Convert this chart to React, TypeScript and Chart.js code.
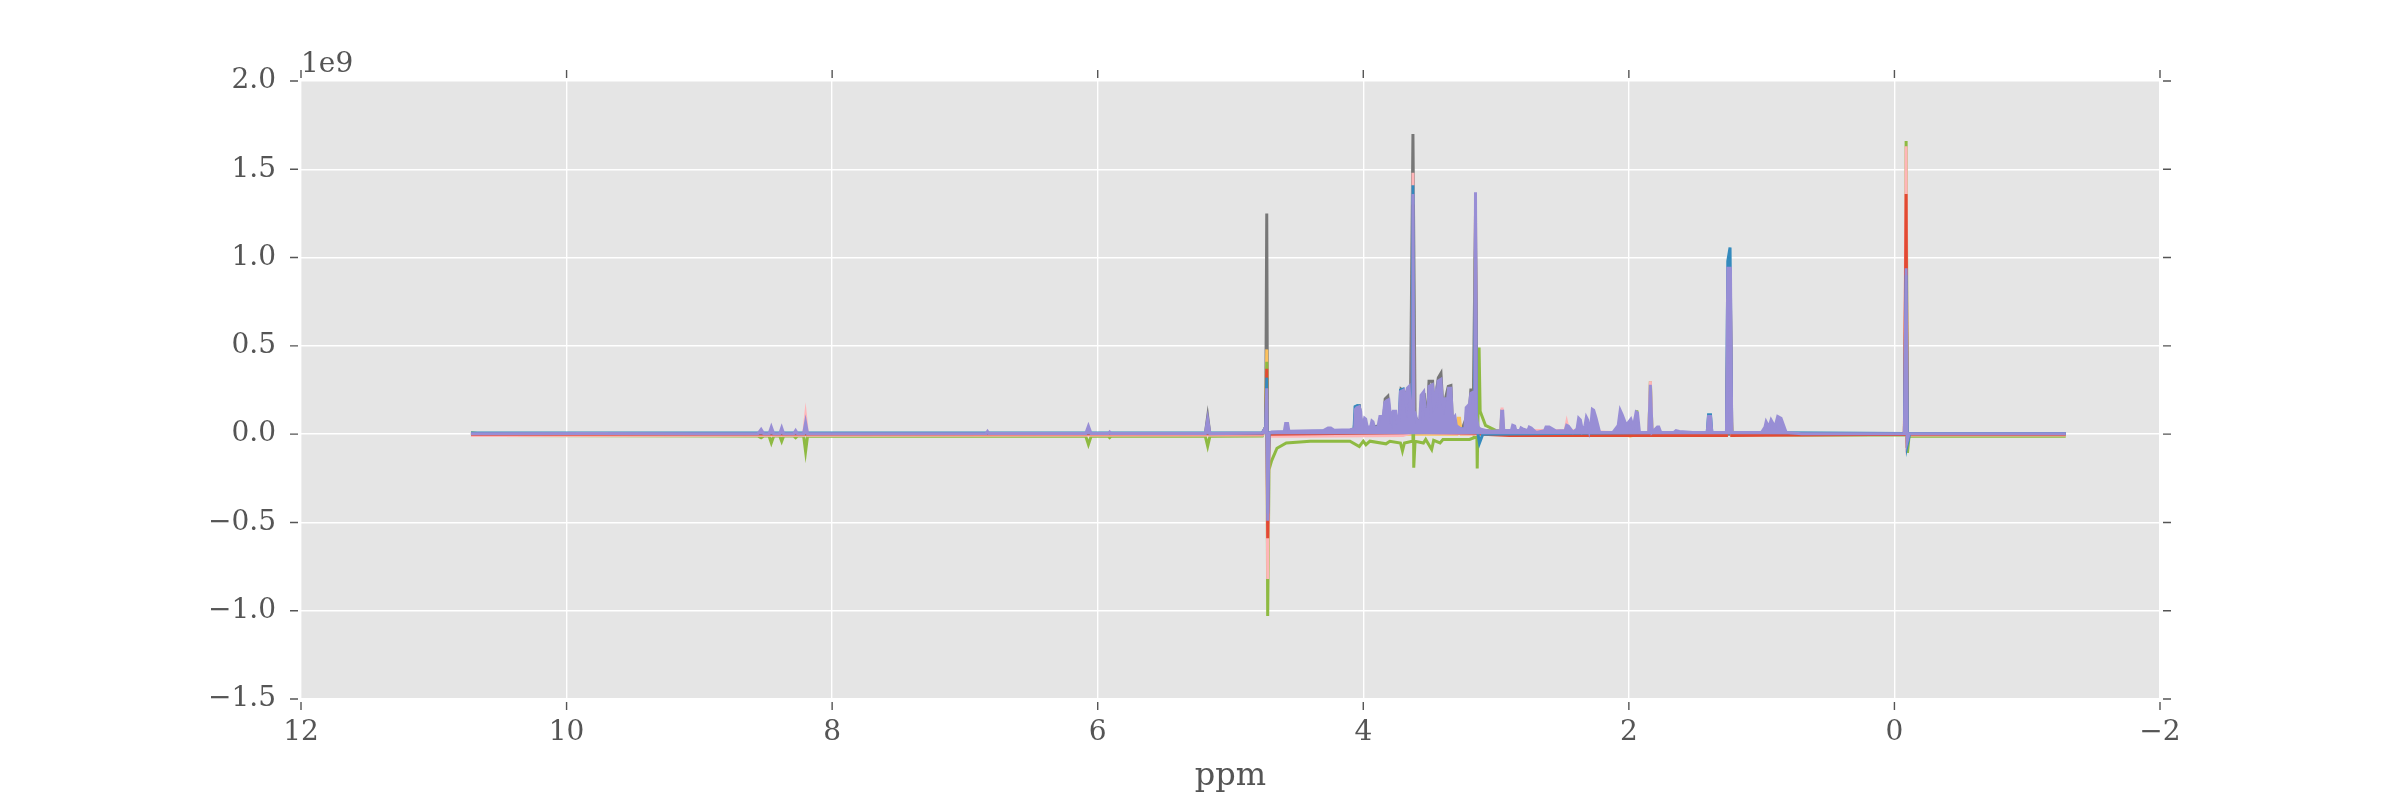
import React, { useEffect, useRef } from 'react';
import { Chart, registerables } from 'chart.js';

Chart.register(...registerables);

type Pt = [number, number];

// Chemical shift (ppm) / intensity (x 1e9) pairs for each spectrum
const PURPLE: Pt[] = [
  [10.72, 0.002], [9.8, 0.003], [9.0, 0.002], [8.56, 0.002], [8.535, 0.027], [8.515, 0.002],
  [8.475, 0.002], [8.458, 0.04], [8.44, 0.002], [8.395, 0.002], [8.38, 0.035], [8.365, 0.002],
  [8.29, 0.002], [8.275, 0.02], [8.26, 0.002], [8.215, 0.002], [8.2, 0.065], [8.185, 0.002],
  [7.8, 0.002], [6.84, 0.003], [6.83, 0.015], [6.82, 0.003], [6.09, 0.003], [6.07, 0.045],
  [6.05, 0.003], [5.92, 0.003], [5.91, 0.012], [5.9, 0.003], [5.19, 0.003], [5.172, 0.085],
  [5.155, 0.003], [4.76, 0.006], [4.735, 0.04], [4.727, 0.26], [4.72, -0.49], [4.71, 0.005],
  [4.69, 0.012], [4.595, 0.015], [4.585, 0.06], [4.57, 0.06], [4.56, 0.016], [4.3, 0.02],
  [4.265, 0.035], [4.245, 0.035], [4.22, 0.022], [4.1, 0.025],
  [4.065, 0.03], [4.06, 0.14], [4.05, 0.15], [4.03, 0.155], [4.02, 0.13], [4.012, 0.05],
  [4.0, 0.05], [3.99, 0.09], [3.982, 0.085], [3.97, 0.04], [3.945, 0.04], [3.935, 0.075],
  [3.927, 0.07], [3.915, 0.035], [3.89, 0.04], [3.875, 0.1], [3.85, 0.1], [3.838, 0.18],
  [3.822, 0.19], [3.808, 0.195], [3.798, 0.12], [3.792, 0.1], [3.775, 0.13], [3.755, 0.13],
  [3.745, 0.07], [3.73, 0.08], [3.72, 0.24], [3.695, 0.25], [3.685, 0.2], [3.676, 0.16],
  [3.668, 0.26], [3.655, 0.27], [3.645, 0.15], [3.632, 0.13], [3.626, 1.36], [3.62, 0.13],
  [3.61, 0.12], [3.595, 0.07], [3.575, 0.07], [3.565, 0.22], [3.545, 0.24], [3.535, 0.15],
  [3.525, 0.1], [3.515, 0.1], [3.505, 0.27], [3.48, 0.28], [3.47, 0.15], [3.465, 0.16],
  [3.455, 0.23], [3.445, 0.2], [3.437, 0.3], [3.415, 0.31], [3.405, 0.18], [3.395, 0.15],
  [3.385, 0.2], [3.365, 0.2], [3.358, 0.26], [3.34, 0.26], [3.33, 0.1], [3.32, 0.09],
  [3.31, 0.1], [3.3, 0.05], [3.285, 0.04], [3.265, 0.03], [3.235, 0.03], [3.225, 0.15],
  [3.2, 0.17], [3.19, 0.23], [3.168, 0.24], [3.16, 0.22], [3.155, 1.37], [3.148, 0.1],
  [3.135, 0.04], [3.12, 0.03], [3.05, 0.015], [2.965, 0.02], [2.958, 0.13], [2.95, 0.13],
  [2.942, 0.02], [2.885, 0.02], [2.875, 0.05], [2.86, 0.045], [2.85, 0.02], [2.82, 0.02],
  [2.812, 0.035], [2.8, 0.03], [2.76, 0.02], [2.75, 0.04], [2.735, 0.035], [2.7, 0.01],
  [2.635, 0.02], [2.624, 0.04], [2.6, 0.04], [2.548, 0.018], [2.48, 0.02], [2.468, 0.05],
  [2.455, 0.045], [2.42, 0.01], [2.39, 0.03], [2.378, 0.09], [2.365, 0.08], [2.35, 0.02],
  [2.33, 0.05], [2.32, 0.095], [2.31, 0.08], [2.297, 0.02], [2.285, 0.06], [2.275, 0.14],
  [2.265, 0.135], [2.247, 0.09], [2.22, 0.01], [2.12, 0.01], [2.08, 0.05], [2.065, 0.135],
  [2.05, 0.11], [2.02, 0.05], [1.985, 0.085], [1.966, 0.04], [1.945, 0.125], [1.935, 0.12],
  [1.92, 0.01], [1.85, 0.01], [1.838, 0.28], [1.825, 0.01], [1.785, 0.04], [1.775, 0.04],
  [1.76, 0.01], [1.66, 0.01], [1.645, 0.02], [1.62, 0.015], [1.52, 0.01], [1.41, 0.01],
  [1.4, 0.1], [1.385, 0.1], [1.375, 0.01], [1.265, 0.01], [1.255, 0.94], [1.235, 0.94],
  [1.225, 0.01], [1.0, 0.01], [0.975, 0.04], [0.966, 0.07], [0.945, 0.04], [0.929, 0.08],
  [0.9, 0.04], [0.879, 0.1], [0.854, 0.09], [0.816, 0.01], [0.7, 0.002], [-0.075, 0.002],
  [-0.088, 0.94], [-0.096, -0.04], [-0.11, 0.002], [-1.29, 0.002],
];

const BLUE: Pt[] = [
  [10.72, 0.006], [4.76, 0.008], [4.735, 0.04], [4.727, 0.32], [4.72, -0.45], [4.71, 0.008],
  [4.07, 0.022], [4.062, 0.155], [4.045, 0.162], [4.03, 0.16], [4.012, 0.03], [3.73, 0.05],
  [3.72, 0.25], [3.7, 0.255], [3.685, 0.15], [3.635, 0.05], [3.626, 1.41], [3.618, 0.03],
  [3.2, 0.03], [3.165, 0.05], [3.155, 1.14], [3.147, 0.05], [3.125, -0.05], [3.1, 0.0],
  [2.0, 0.008], [1.41, 0.01], [1.4, 0.11], [1.385, 0.11], [1.375, 0.01], [1.265, 0.01],
  [1.255, 0.98], [1.238, 1.057], [1.225, 0.01], [-0.075, 0.004], [-0.088, 0.9],
  [-0.098, -0.055], [-0.115, 0.004], [-1.29, 0.004],
];

const RED: Pt[] = [
  [10.72, 0.0], [4.76, 0.002], [4.735, 0.04], [4.727, 0.37], [4.72, -0.59], [4.71, 0.0],
  [4.2, 0.004], [3.7, 0.008], [3.635, 0.01], [3.626, 1.3], [3.618, 0.01], [3.165, 0.005],
  [3.155, 1.05], [3.147, 0.005], [3.1, 0.0], [2.9, -0.008], [1.265, -0.008], [1.25, 0.75],
  [1.235, 0.75], [1.225, -0.008], [0.7, -0.005], [-0.075, 0.0], [-0.088, 1.36],
  [-0.096, -0.03], [-0.11, 0.0], [-1.29, 0.0],
];

const PINK: Pt[] = [
  [10.72, -0.008], [8.215, -0.006], [8.2, 0.1], [8.185, -0.006], [4.76, -0.005],
  [4.735, 0.03], [4.727, 0.2], [4.72, -0.82], [4.71, -0.012], [4.5, -0.012], [3.7, -0.008],
  [3.635, 0.01], [3.626, 1.48], [3.618, 0.01], [3.165, 0.0], [3.155, 1.28], [3.147, 0.0],
  [2.965, 0.02], [2.955, 0.15], [2.945, 0.02], [2.48, 0.02], [2.468, 0.065], [2.455, 0.02],
  [1.85, 0.0], [1.838, 0.3], [1.825, 0.0], [1.265, 0.0], [1.25, 0.9], [1.225, 0.0],
  [-0.075, 0.0], [-0.088, 1.63], [-0.096, -0.05], [-0.11, -0.005], [-1.29, -0.005],
];

const GREEN: Pt[] = [
  [10.72, 0.008], [10.55, -0.008], [8.56, -0.01], [8.535, -0.02], [8.515, -0.01],
  [8.475, -0.01], [8.458, -0.049], [8.44, -0.01], [8.395, -0.01], [8.38, -0.04],
  [8.365, -0.01], [8.29, -0.01], [8.275, -0.02], [8.26, -0.01], [8.215, -0.01],
  [8.2, -0.098], [8.185, -0.01], [6.09, -0.012], [6.07, -0.058], [6.05, -0.012],
  [5.92, -0.012], [5.91, -0.02], [5.9, -0.012], [5.19, -0.012], [5.172, -0.068],
  [5.155, -0.012], [4.76, -0.01], [4.735, 0.04], [4.727, 0.41], [4.72, -1.03], [4.71, -0.2],
  [4.69, -0.15], [4.65, -0.08], [4.58, -0.05], [4.4, -0.04], [4.1, -0.04], [4.03, -0.07],
  [4.0, -0.04], [3.98, -0.06], [3.95, -0.04], [3.829, -0.055], [3.8, -0.04], [3.72, -0.05],
  [3.705, -0.095], [3.69, -0.05], [3.632, -0.04], [3.626, 1.0], [3.62, -0.19], [3.61, -0.04],
  [3.547, -0.05], [3.53, -0.03], [3.485, -0.087], [3.47, -0.035], [3.422, -0.05],
  [3.4, -0.03], [3.352, -0.03], [3.2, -0.03], [3.165, -0.02], [3.158, 1.0], [3.142, -0.195],
  [3.128, 0.49], [3.12, 0.13], [3.08, 0.05], [3.0, 0.02], [2.965, 0.02], [2.955, 0.14],
  [2.945, 0.02], [2.2, 0.0], [1.952, 0.0], [1.94, 0.135], [1.928, 0.0], [1.85, 0.0],
  [1.838, 0.3], [1.825, 0.0], [1.265, 0.0], [1.25, 0.9], [1.225, 0.0], [0.7, -0.005],
  [-0.07, -0.005], [-0.08, 0.03], [-0.088, 1.66], [-0.098, -0.106], [-0.11, -0.012],
  [-1.29, -0.012],
];

const YELLOW: Pt[] = [
  [10.72, 0.0], [4.76, 0.0], [4.735, 0.04], [4.727, 0.48], [4.72, -0.5], [4.71, 0.0],
  [3.632, 0.0], [3.626, 1.0], [3.62, 0.0], [3.295, 0.0], [3.285, 0.09], [3.275, 0.09],
  [3.262, 0.0], [3.165, 0.0], [3.155, 1.0], [3.147, 0.0], [2.02, -0.005], [1.99, -0.012],
  [1.96, -0.005], [1.265, -0.003], [1.25, 0.8], [1.225, -0.003], [-0.075, 0.0],
  [-0.088, 1.1], [-0.096, -0.03], [-0.11, 0.0], [-1.29, 0.0],
];

const GRAY: Pt[] = [
  [10.72, 0.0], [5.19, 0.0], [5.172, 0.1], [5.155, 0.0], [4.76, 0.0], [4.735, 0.04],
  [4.727, 1.25], [4.72, -0.3], [4.71, 0.0], [4.07, 0.02], [4.055, 0.155], [4.03, 0.16],
  [4.01, 0.03], [3.85, 0.05], [3.835, 0.2], [3.815, 0.215], [3.8, 0.1], [3.73, 0.05],
  [3.715, 0.255], [3.69, 0.24], [3.676, 0.15], [3.66, 0.26], [3.645, 0.12], [3.626, 1.7],
  [3.61, 0.1], [3.575, 0.05], [3.56, 0.21], [3.54, 0.22], [3.52, 0.05], [3.505, 0.3],
  [3.478, 0.3], [3.468, 0.14], [3.435, 0.32], [3.415, 0.345], [3.4, 0.14], [3.36, 0.27],
  [3.34, 0.275], [3.33, 0.08], [3.3, 0.04], [3.26, 0.02], [3.2, 0.14], [3.19, 0.25],
  [3.17, 0.25], [3.155, 1.24], [3.147, 0.05], [3.12, 0.02], [2.5, 0.0], [-0.075, 0.0],
  [-0.088, 1.2], [-0.096, -0.02], [-0.11, 0.0], [-1.29, 0.0],
];

// First entry is drawn on top in Chart.js
const SERIES: { name: string; pts: Pt[]; color: string; filled: boolean }[] = [
  { name: 'purple', pts: PURPLE, color: '#988ED5', filled: true },
  { name: 'blue', pts: BLUE, color: '#348ABD', filled: false },
  { name: 'red', pts: RED, color: '#E24A33', filled: false },
  { name: 'pink', pts: PINK, color: '#FFB5B8', filled: false },
  { name: 'green', pts: GREEN, color: '#8EBA42', filled: false },
  { name: 'yellow', pts: YELLOW, color: '#FBC15E', filled: false },
  { name: 'gray', pts: GRAY, color: '#777777', filled: false },
];

const X_MIN = -2;
const X_MAX = 12;
const X_STEP = 2;
const Y_MIN = -1.5;
const Y_MAX = 2.0;
const Y_STEP = 0.5;
const OFFSET_LABEL = '1e9';
const X_TITLE = 'ppm';

const FONT = '"DejaVu Serif", "Liberation Serif", serif';
const TEXT = '#555555';
const minus = (s: string) => s.replace('-', '\u2212');

const ggPlugin = {
  id: 'ggplotLook',
  beforeDraw(chart: any) {
    const { ctx, chartArea: a } = chart;
    ctx.save();
    ctx.fillStyle = '#E5E5E5';
    ctx.fillRect(a.left, a.top, a.right - a.left, a.bottom - a.top);
    ctx.restore();
  },
  afterDraw(chart: any) {
    const { ctx, chartArea: a, scales } = chart;
    const x = scales.x;
    const y = scales.y;
    ctx.save();
    ctx.strokeStyle = TEXT;
    ctx.lineWidth = 1.4;
    ctx.beginPath();
    for (const t of x.ticks) {
      const px = x.getPixelForValue(t.value);
      ctx.moveTo(px, a.bottom + 3);
      ctx.lineTo(px, a.bottom + 11);
      ctx.moveTo(px, a.top - 3);
      ctx.lineTo(px, a.top - 11);
    }
    for (const t of y.ticks) {
      const py = y.getPixelForValue(t.value);
      ctx.moveTo(a.left - 3, py);
      ctx.lineTo(a.left - 11, py);
      ctx.moveTo(a.right + 3, py);
      ctx.lineTo(a.right + 11, py);
    }
    ctx.stroke();
    ctx.fillStyle = TEXT;
    ctx.textBaseline = 'alphabetic';
    ctx.font = `28px ${FONT}`;
    ctx.textAlign = 'left';
    ctx.fillText(OFFSET_LABEL, a.left, a.top - 9);
    ctx.font = `32px ${FONT}`;
    ctx.textAlign = 'center';
    ctx.fillText(X_TITLE, (a.left + a.right) / 2, a.bottom + 86);
    ctx.restore();
  },
};

export default function App() {
  const ref = useRef<HTMLCanvasElement>(null);
  useEffect(() => {
    const canvas = ref.current;
    if (!canvas) return;
    const chart = new Chart(canvas, {
      type: 'line',
      data: {
        datasets: SERIES.map((s) => ({
          label: s.name,
          data: s.pts.map(([px, py]) => ({ x: px, y: py })),
          borderColor: s.color,
          backgroundColor: s.color,
          borderWidth: 3,
          pointRadius: 0,
          pointHoverRadius: 0,
          tension: 0,
          fill: s.filled ? 'origin' : false,
        })),
      },
      options: {
        animation: false,
        responsive: false,
        devicePixelRatio: 1,
        events: [],
        layout: { padding: { left: 0, right: 240, top: 81, bottom: 0 } },
        plugins: { legend: { display: false }, tooltip: { enabled: false } },
        scales: {
          x: {
            type: 'linear',
            reverse: true,
            min: X_MIN,
            max: X_MAX,
            afterFit: (s: any) => { s.height = 101; },
            ticks: {
              stepSize: X_STEP,
              padding: 17,
              color: TEXT,
              maxRotation: 0,
              autoSkip: false,
              font: { family: FONT, size: 28 },
              callback: (v: any) => minus(String(v)),
            },
            grid: { color: '#FFFFFF', lineWidth: 1.4, drawTicks: false },
            border: { display: false },
          },
          y: {
            type: 'linear',
            min: Y_MIN,
            max: Y_MAX,
            afterFit: (s: any) => { s.width = 301; },
            ticks: {
              stepSize: Y_STEP,
              padding: 25,
              color: TEXT,
              font: { family: FONT, size: 28 },
              callback: (v: any) => minus(Number(v).toFixed(1)).replace('\u22120.0', '0.0'),
            },
            grid: { color: '#FFFFFF', lineWidth: 1.4, drawTicks: false },
            border: { display: false },
          },
        },
      },
      plugins: [ggPlugin],
    });
    return () => chart.destroy();
  }, []);
  return (
    <div style={{ position: 'absolute', left: 0, top: 0, width: 2400, height: 800, background: '#FFFFFF' }}>
      <canvas ref={ref} width={2400} height={800} style={{ width: 2400, height: 800, display: 'block' }} />
    </div>
  );
}
